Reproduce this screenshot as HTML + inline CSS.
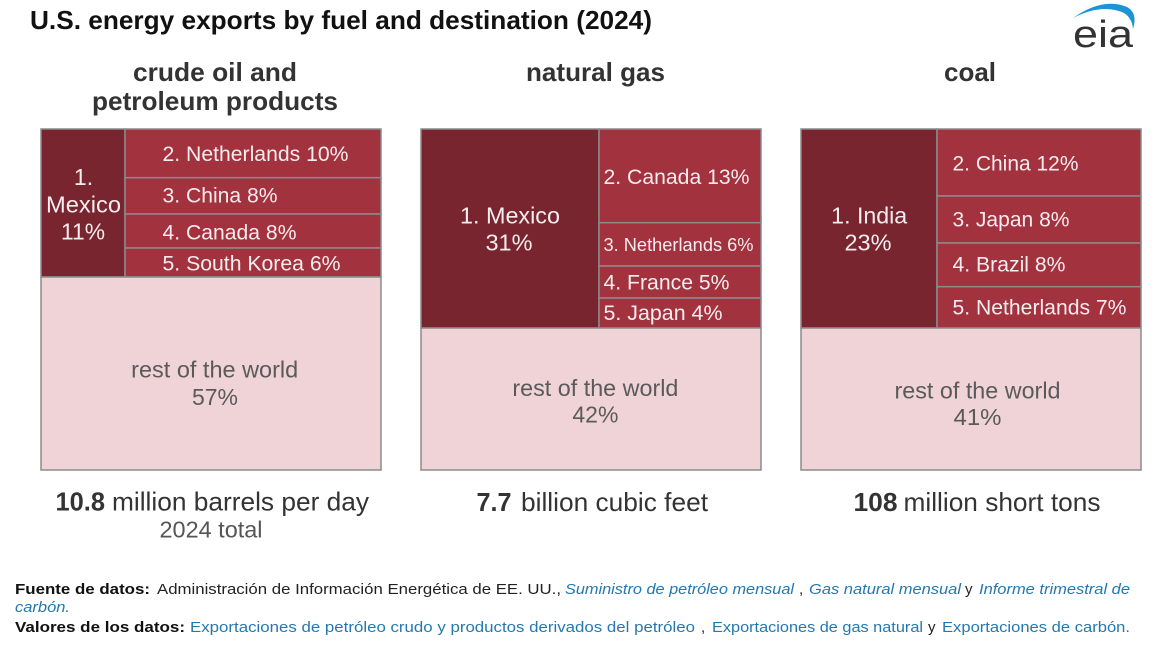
<!DOCTYPE html>
<html>
<head>
<meta charset="utf-8">
<style>
  html, body { margin: 0; padding: 0; background: #ffffff; }
  svg { display: block; }
  text { font-family: "Liberation Sans", Arial, sans-serif; }
</style>
</head>
<body>
<svg width="1154" height="648" viewBox="0 0 1154 648" xmlns="http://www.w3.org/2000/svg">
  <rect x="0" y="0" width="1154" height="648" fill="#ffffff"/>

  <!-- Title -->
  <text x="30" y="29" font-size="26" font-weight="bold" fill="#111111" textLength="622" lengthAdjust="spacingAndGlyphs">U.S. energy exports by fuel and destination (2024)</text>

  <!-- EIA logo -->
  <path d="M1073,18 Q1103,-3 1127,7 Q1138,13 1133,29 Q1132,18 1124,13 Q1102,3 1073,18 Z" fill="#1f93d8"/>
  <text x="1073" y="47" font-size="38" fill="#333333" textLength="60" lengthAdjust="spacingAndGlyphs">eia</text>

  <!-- Panel titles -->
  <g font-size="26" font-weight="bold" fill="#333333">
    <text x="133" y="81" textLength="164" lengthAdjust="spacingAndGlyphs">crude oil and</text>
    <text x="92" y="110" textLength="246" lengthAdjust="spacingAndGlyphs">petroleum products</text>
    <text x="526" y="81" textLength="139" lengthAdjust="spacingAndGlyphs">natural gas</text>
    <text x="944" y="81" textLength="52" lengthAdjust="spacingAndGlyphs">coal</text>
  </g>

  <!-- ===== Panel 1: crude oil ===== -->
  <g stroke="#8b8b8b" stroke-width="1.5">
    <rect x="41" y="129" width="84" height="148" fill="#782530"/>
    <rect x="125" y="129" width="256" height="48.7" fill="#a3323f"/>
    <rect x="125" y="177.7" width="256" height="36.3" fill="#a3323f"/>
    <rect x="125" y="214" width="256" height="34" fill="#a3323f"/>
    <rect x="125" y="248" width="256" height="29" fill="#a3323f"/>
    <rect x="41" y="277" width="340" height="193" fill="#f0d3d7"/>
  </g>
  <g fill="#f7ecee">
    <text x="83.5" y="185" font-size="23" text-anchor="middle">1.</text>
    <text x="83.5" y="212.3" font-size="23" text-anchor="middle" textLength="75" lengthAdjust="spacingAndGlyphs">Mexico</text>
    <text x="83" y="239.3" font-size="23" text-anchor="middle" textLength="44" lengthAdjust="spacingAndGlyphs">11%</text>
    <text x="162.5" y="161" font-size="21" textLength="186" lengthAdjust="spacingAndGlyphs">2. Netherlands 10%</text>
    <text x="162.5" y="202.7" font-size="21" textLength="115" lengthAdjust="spacingAndGlyphs">3. China 8%</text>
    <text x="162.5" y="239.3" font-size="21" textLength="134" lengthAdjust="spacingAndGlyphs">4. Canada 8%</text>
    <text x="162.5" y="270.7" font-size="21" textLength="178" lengthAdjust="spacingAndGlyphs">5. South Korea 6%</text>
  </g>
  <g fill="#5a5a5a" font-size="23" text-anchor="middle">
    <text x="214.7" y="377.3" textLength="167" lengthAdjust="spacingAndGlyphs">rest of the world</text>
    <text x="215" y="405" textLength="46" lengthAdjust="spacingAndGlyphs">57%</text>
  </g>
  <text x="55.5" y="510.7" font-size="26" font-weight="bold" fill="#333333" textLength="49.5" lengthAdjust="spacingAndGlyphs">10.8</text>
  <text x="112" y="510.7" font-size="26" fill="#333333" textLength="257" lengthAdjust="spacingAndGlyphs">million barrels per day</text>
  <text x="159.5" y="537.7" font-size="23" fill="#555555" textLength="103" lengthAdjust="spacingAndGlyphs">2024 total</text>

  <!-- ===== Panel 2: natural gas ===== -->
  <g stroke="#8b8b8b" stroke-width="1.5">
    <rect x="421" y="129" width="178" height="199" fill="#782530"/>
    <rect x="599" y="129" width="162" height="93.7" fill="#a3323f"/>
    <rect x="599" y="222.7" width="162" height="43.3" fill="#a3323f"/>
    <rect x="599" y="266" width="162" height="32" fill="#a3323f"/>
    <rect x="599" y="298" width="162" height="30" fill="#a3323f"/>
    <rect x="421" y="328" width="340" height="142" fill="#f0d3d7"/>
  </g>
  <g fill="#f7ecee">
    <text x="510" y="223.3" font-size="23" text-anchor="middle" textLength="100" lengthAdjust="spacingAndGlyphs">1. Mexico</text>
    <text x="509" y="250.7" font-size="23" text-anchor="middle" textLength="47" lengthAdjust="spacingAndGlyphs">31%</text>
    <text x="603.5" y="184" font-size="21" textLength="146" lengthAdjust="spacingAndGlyphs">2. Canada 13%</text>
    <text x="603.5" y="251" font-size="18" textLength="150" lengthAdjust="spacingAndGlyphs">3. Netherlands 6%</text>
    <text x="603.5" y="289.3" font-size="21" textLength="126" lengthAdjust="spacingAndGlyphs">4. France 5%</text>
    <text x="603.5" y="320" font-size="21" textLength="119" lengthAdjust="spacingAndGlyphs">5. Japan 4%</text>
  </g>
  <g fill="#5a5a5a" font-size="23" text-anchor="middle">
    <text x="595.4" y="396" textLength="166" lengthAdjust="spacingAndGlyphs">rest of the world</text>
    <text x="595.4" y="422.3" textLength="46" lengthAdjust="spacingAndGlyphs">42%</text>
  </g>
  <text x="476.5" y="511" font-size="26" font-weight="bold" fill="#333333" textLength="35" lengthAdjust="spacingAndGlyphs">7.7</text>
  <text x="521" y="511" font-size="26" fill="#333333" textLength="187" lengthAdjust="spacingAndGlyphs">billion cubic feet</text>

  <!-- ===== Panel 3: coal ===== -->
  <g stroke="#8b8b8b" stroke-width="1.5">
    <rect x="801" y="129" width="136" height="199" fill="#782530"/>
    <rect x="937" y="129" width="204" height="67" fill="#a3323f"/>
    <rect x="937" y="196" width="204" height="47" fill="#a3323f"/>
    <rect x="937" y="243" width="204" height="43.7" fill="#a3323f"/>
    <rect x="937" y="286.7" width="204" height="41.3" fill="#a3323f"/>
    <rect x="801" y="328" width="340" height="142" fill="#f0d3d7"/>
  </g>
  <g fill="#f7ecee">
    <text x="869.2" y="223.3" font-size="23" text-anchor="middle" textLength="76" lengthAdjust="spacingAndGlyphs">1. India</text>
    <text x="868" y="250.7" font-size="23" text-anchor="middle" textLength="47" lengthAdjust="spacingAndGlyphs">23%</text>
    <text x="952.5" y="170.7" font-size="21" textLength="126" lengthAdjust="spacingAndGlyphs">2. China 12%</text>
    <text x="952.5" y="226.7" font-size="21" textLength="117" lengthAdjust="spacingAndGlyphs">3. Japan 8%</text>
    <text x="952.5" y="271.7" font-size="21" textLength="113" lengthAdjust="spacingAndGlyphs">4. Brazil 8%</text>
    <text x="952.5" y="314.3" font-size="21" textLength="174" lengthAdjust="spacingAndGlyphs">5. Netherlands 7%</text>
  </g>
  <g fill="#5a5a5a" font-size="23" text-anchor="middle">
    <text x="977.5" y="398.3" textLength="166" lengthAdjust="spacingAndGlyphs">rest of the world</text>
    <text x="977.5" y="425" textLength="48" lengthAdjust="spacingAndGlyphs">41%</text>
  </g>
  <text x="853.5" y="511" font-size="26" font-weight="bold" fill="#333333" textLength="44" lengthAdjust="spacingAndGlyphs">108</text>
  <text x="903.5" y="511" font-size="26" fill="#333333" textLength="197" lengthAdjust="spacingAndGlyphs">million short tons</text>

  <!-- ===== Footer ===== -->
  <g font-size="15">
    <text x="15" y="594" font-weight="bold" fill="#111111" textLength="135" lengthAdjust="spacingAndGlyphs">Fuente de datos:</text>
    <text x="157" y="594" fill="#222222" textLength="404" lengthAdjust="spacingAndGlyphs">Administración de Información Energética de EE. UU.,</text>
    <text x="565" y="594" fill="#2478b0" font-style="italic" textLength="229" lengthAdjust="spacingAndGlyphs">Suministro de petróleo mensual</text>
    <text x="799" y="594" fill="#222222">,</text>
    <text x="809" y="594" fill="#2478b0" font-style="italic" textLength="152" lengthAdjust="spacingAndGlyphs">Gas natural mensual</text>
    <text x="965" y="594" fill="#222222">y</text>
    <text x="979" y="594" fill="#2478b0" font-style="italic" textLength="151" lengthAdjust="spacingAndGlyphs">Informe trimestral de</text>

    <text x="15" y="612" fill="#2478b0" font-style="italic" textLength="55" lengthAdjust="spacingAndGlyphs">carbón.</text>

    <text x="15" y="632" font-weight="bold" fill="#111111" textLength="170" lengthAdjust="spacingAndGlyphs">Valores de los datos:</text>
    <text x="190" y="632" fill="#2478b0" textLength="505" lengthAdjust="spacingAndGlyphs">Exportaciones de petróleo crudo y productos derivados del petróleo</text>
    <text x="701" y="632" fill="#222222">,</text>
    <text x="712" y="632" fill="#2478b0" textLength="211" lengthAdjust="spacingAndGlyphs">Exportaciones de gas natural</text>
    <text x="928" y="632" fill="#222222">y</text>
    <text x="942" y="632" fill="#2478b0" textLength="188" lengthAdjust="spacingAndGlyphs">Exportaciones de carbón.</text>
  </g>
</svg>
</body>
</html>
